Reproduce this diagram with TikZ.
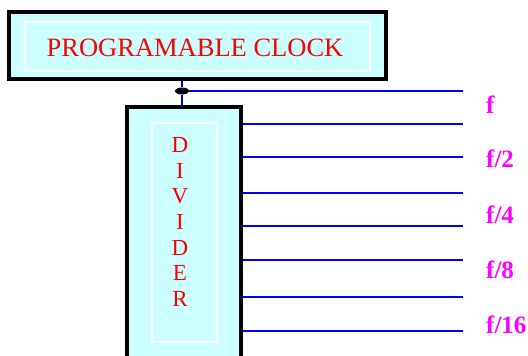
\documentclass[tikz,border=0pt]{standalone}
\usepackage{fontspec}
\setmainfont{Liberation Serif}
\usepackage{tikz}
\usetikzlibrary{positioning,shapes.geometric,calc}
\definecolor{boxcyan}{RGB}{204,255,255}
\definecolor{wireblue}{RGB}{0,0,255}
\definecolor{labelmag}{RGB}{255,0,255}
\tikzset{
  blockbox/.style={draw=black, fill=boxcyan, line width=4pt, inner sep=0pt},
  innerbox/.style={draw=white, line width=1.2pt, inner sep=0pt},
  wire/.style={wireblue, line width=2pt},
  freqlabel/.style={labelmag, font=\fontsize{25}{25}\selectfont\bfseries, anchor=base west, inner sep=0pt}
}

\begin{document}
\begin{tikzpicture}[x=1pt, y=-1pt]
    \useasboundingbox (0,0) rectangle (528,356);
    \clip (0,0) rectangle (528,356);

    % Blocks
    \node[blockbox, minimum width=377pt, minimum height=67pt] (clock) at (197.5,45.5) {};
    \node[innerbox, minimum width=345pt, minimum height=49pt] (clockin) at (197.5,46.5) {};
    \node[blockbox, minimum width=114pt, minimum height=273pt] (divider) at (184,243.5) {};
    \node[innerbox, minimum width=65pt, minimum height=219pt] (dividerin) at (184.5,232.5) {};

    % Texts
    \node[red, font=\fontsize{26.5}{26.5}\selectfont, inner sep=0pt] (clocktext) at (195,48) {PROGRAMABLE CLOCK};
    \node[red, font=\fontsize{23}{25.7}\selectfont, align=center, inner sep=0pt] (dividertext) at (180,222) {D\\I\\V\\I\\D\\E\\R};

    % Clock output
    \node[ellipse, fill=black, minimum width=14pt, minimum height=7pt, inner sep=0pt] (dot) at (182,91) {};
    \draw[wire] (clock.south -| dot) -- (dot) -- (divider.north -| dot);
    \coordinate (out0) at (463,91);
    \draw[wire] (dot) -- (out0);

    % Divider outputs
    \foreach \i/\y in {1/124.3, 2/157.3, 3/193.3, 4/226, 5/260.3, 6/296.7, 7/330.7} {
        \coordinate (out\i) at (463,\y);
        \draw[wire] (divider.east |- out\i) -- (out\i);
    }

    % Labels
    \node[freqlabel] (lf1) at (486,113) {f};
    \node[freqlabel] (lf2) at (486,167) {f/2};
    \node[freqlabel] (lf4) at (486,223) {f/4};
    \node[freqlabel] (lf8) at (486,278) {f/8};
    \node[freqlabel] (lf16) at (486,333) {f/16};
\end{tikzpicture}
\end{document}
